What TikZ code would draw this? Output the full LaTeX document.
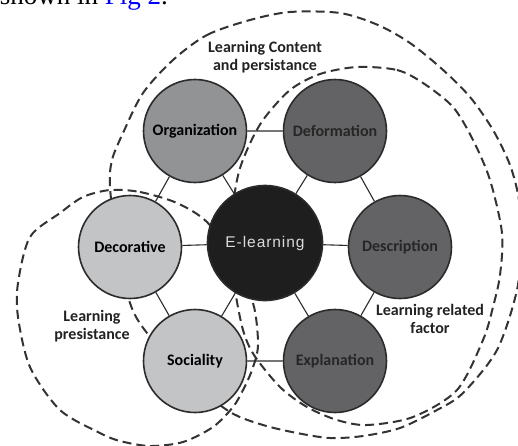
\documentclass[tikz,border=0pt]{standalone}
\usepackage{fontspec}
\setmainfont{Carlito}
\newfontfamily\corefont[LetterSpace=6]{Liberation Sans}
\newfontfamily\capfont{Liberation Serif}
\usetikzlibrary{positioning}

\definecolor{topicLight}{HTML}{C3C4C6}
\definecolor{topicMid}{HTML}{929395}
\definecolor{topicDark}{HTML}{636365}
\definecolor{coreBlack}{HTML}{1E1E1E}
\definecolor{coreText}{HTML}{DADADA}
\definecolor{rimGray}{HTML}{2B2B2B}
\definecolor{textDark}{HTML}{262626}
\definecolor{dashGray}{HTML}{333333}
\definecolor{labelGray}{HTML}{222222}

\tikzset{
  topic/.style={circle, draw=rimGray, line width=1.6pt, minimum size=103pt, inner sep=0pt,
    font=\bfseries\fontsize{16}{19}\selectfont},
  light/.style={topic, fill=topicLight, text=black},
  mid/.style={topic, fill=topicMid, text=black},
  dark/.style={topic, fill=topicDark, text=textDark},
  core/.style={circle, draw=rimGray, line width=1.6pt, fill=coreBlack, minimum size=115pt,
    inner sep=0pt, text=coreText, font=\corefont\fontsize{15.5}{18}\selectfont},
  link/.style={draw=rimGray, line width=1.1pt},
  region/.style={draw=dashGray, line width=2pt, dash pattern=on 9pt off 5pt},
  regionlabel/.style={align=center, inner sep=0pt, text=labelGray,
    font=\bfseries\fontsize{16}{18}\selectfont}
}

\begin{document}
\begin{tikzpicture}[x=1pt,y=-1pt]
\useasboundingbox (0,0) rectangle (518,445);

%--------------------- caption fragment ------------------%
\begin{scope}
\clip (0,0) rectangle (518,445);
\node[anchor=base east, inner sep=0pt, font=\capfont\fontsize{27}{30}\selectfont] (caption) at (168,4)
  {shown in \textcolor{blue}{Fig 2}.};
\end{scope}

%--------------------- dashed regions ------------------%
% Learning Content and persistance
\draw[region] plot[smooth cycle] coordinates {(173,60) (207,35) (250,20) (290,12) (340,13) (378,25)
  (410,43) (442,69) (470,97) (493,130) (510,165) (519,200) (521,240) (517,290) (497,350) (463,393)
  (437,410) (400,428) (363,436) (330,438) (297,433) (263,425) (230,412) (190,380) (147,333) (130,303)
  (117,245) (110,187) (112,160) (123,133) (143,93)};
% Learning related factor
\draw[region] plot[smooth cycle] coordinates {(357,67) (397,70) (423,83) (453,107) (473,140) (490,180)
  (502,233) (500,275) (493,307) (483,340) (457,390) (413,417) (367,425) (337,420) (307,407) (280,387)
  (254,355) (243,330) (235,290) (229,240) (237,180) (247,150) (263,120) (290,90) (320,74)};
% Learning presistance
\draw[region] plot[smooth cycle] coordinates {(110,190) (140,192) (177,203) (207,222) (232,258)
  (253,303) (258,345) (252,370) (243,390) (233,407) (213,427) (183,442) (150,446) (120,441) (100,433)
  (60,410) (30,367) (18,317) (18,283) (30,237) (60,213) (83,197)};

%--------------------- topics ------------------%
\node[core]  (elearn) at (265,243) {E-learning};
\node[mid]   (organ)  at (195,131) {Organization};
\node[dark]  (deform) at (335,131) {Deformation};
\node[dark]  (descr)  at (400,247) {Description};
\node[dark]  (expl)   at (335,361) {Explanation};
\node[light] (social) at (195,361) {Sociality};
\node[light] (decor)  at (130,247) {Decorative};

%--------------------- connectors ------------------%
\draw[link] (organ) -- (deform) -- (descr) -- (expl) -- (social) -- (decor) -- (organ);
\foreach \t in {organ,deform,descr,expl,social,decor}
  \draw[link] (elearn) -- (\t);

%--------------------- region labels ------------------%
\node[regionlabel] (contentlbl) at (265,57)  {Learning Content\\and persistance};
\node[regionlabel] (factorlbl)  at (430,319) {Learning related\\factor};
\node[regionlabel] (presistlbl) at (92,326)  {Learning\\presistance};
\end{tikzpicture}
\end{document}
